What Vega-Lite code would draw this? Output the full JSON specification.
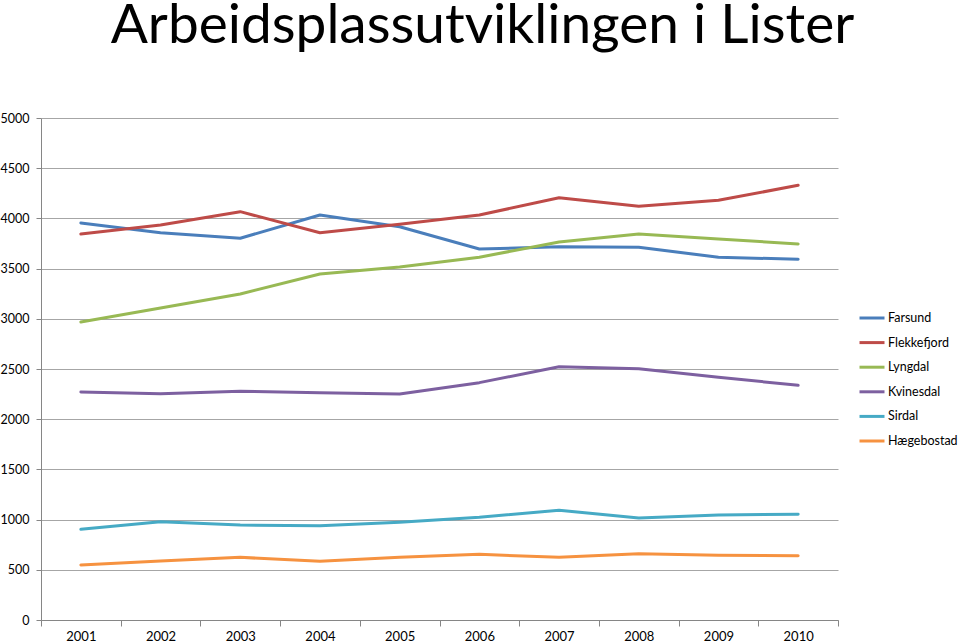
{
  "$schema": "https://vega.github.io/schema/vega-lite/v6.json",
  "width": 797,
  "height": 502,
  "autosize": {"type": "none"},
  "padding": {"left": 41, "top": 118, "right": 121, "bottom": 23},
  "background": "white",
  "title": {
    "text": "Arbeidsplassutviklingen i Lister",
    "font": "Lato",
    "fontSize": 55,
    "fontWeight": "normal",
    "color": "#000000",
    "anchor": "middle",
    "dx": 43,
    "baseline": "alphabetic",
    "offset": 14
  },
  "config": {
    "view": {"stroke": null},
    "font": "Lato"
  },
  "data": {
    "values": [
      {"year": "2001", "kommune": "Farsund", "value": 3955},
      {"year": "2002", "kommune": "Farsund", "value": 3857},
      {"year": "2003", "kommune": "Farsund", "value": 3802},
      {"year": "2004", "kommune": "Farsund", "value": 4034},
      {"year": "2005", "kommune": "Farsund", "value": 3917},
      {"year": "2006", "kommune": "Farsund", "value": 3695},
      {"year": "2007", "kommune": "Farsund", "value": 3718},
      {"year": "2008", "kommune": "Farsund", "value": 3712},
      {"year": "2009", "kommune": "Farsund", "value": 3613},
      {"year": "2010", "kommune": "Farsund", "value": 3593},
      {"year": "2001", "kommune": "Flekkefjord", "value": 3845},
      {"year": "2002", "kommune": "Flekkefjord", "value": 3934},
      {"year": "2003", "kommune": "Flekkefjord", "value": 4067},
      {"year": "2004", "kommune": "Flekkefjord", "value": 3857},
      {"year": "2005", "kommune": "Flekkefjord", "value": 3941},
      {"year": "2006", "kommune": "Flekkefjord", "value": 4034},
      {"year": "2007", "kommune": "Flekkefjord", "value": 4206},
      {"year": "2008", "kommune": "Flekkefjord", "value": 4120},
      {"year": "2009", "kommune": "Flekkefjord", "value": 4180},
      {"year": "2010", "kommune": "Flekkefjord", "value": 4330},
      {"year": "2001", "kommune": "Lyngdal", "value": 2968},
      {"year": "2002", "kommune": "Lyngdal", "value": 3107},
      {"year": "2003", "kommune": "Lyngdal", "value": 3247},
      {"year": "2004", "kommune": "Lyngdal", "value": 3446},
      {"year": "2005", "kommune": "Lyngdal", "value": 3516},
      {"year": "2006", "kommune": "Lyngdal", "value": 3613},
      {"year": "2007", "kommune": "Lyngdal", "value": 3765},
      {"year": "2008", "kommune": "Lyngdal", "value": 3845},
      {"year": "2009", "kommune": "Lyngdal", "value": 3795},
      {"year": "2010", "kommune": "Lyngdal", "value": 3745},
      {"year": "2001", "kommune": "Kvinesdal", "value": 2271},
      {"year": "2002", "kommune": "Kvinesdal", "value": 2254},
      {"year": "2003", "kommune": "Kvinesdal", "value": 2278},
      {"year": "2004", "kommune": "Kvinesdal", "value": 2264},
      {"year": "2005", "kommune": "Kvinesdal", "value": 2251},
      {"year": "2006", "kommune": "Kvinesdal", "value": 2364},
      {"year": "2007", "kommune": "Kvinesdal", "value": 2523},
      {"year": "2008", "kommune": "Kvinesdal", "value": 2503},
      {"year": "2009", "kommune": "Kvinesdal", "value": 2417},
      {"year": "2010", "kommune": "Kvinesdal", "value": 2338},
      {"year": "2001", "kommune": "Sirdal", "value": 903},
      {"year": "2002", "kommune": "Sirdal", "value": 979},
      {"year": "2003", "kommune": "Sirdal", "value": 946},
      {"year": "2004", "kommune": "Sirdal", "value": 939},
      {"year": "2005", "kommune": "Sirdal", "value": 973},
      {"year": "2006", "kommune": "Sirdal", "value": 1023},
      {"year": "2007", "kommune": "Sirdal", "value": 1093},
      {"year": "2008", "kommune": "Sirdal", "value": 1016},
      {"year": "2009", "kommune": "Sirdal", "value": 1046},
      {"year": "2010", "kommune": "Sirdal", "value": 1053},
      {"year": "2001", "kommune": "Hægebostad", "value": 548},
      {"year": "2002", "kommune": "Hægebostad", "value": 588},
      {"year": "2003", "kommune": "Hægebostad", "value": 624},
      {"year": "2004", "kommune": "Hægebostad", "value": 585},
      {"year": "2005", "kommune": "Hægebostad", "value": 624},
      {"year": "2006", "kommune": "Hægebostad", "value": 654},
      {"year": "2007", "kommune": "Hægebostad", "value": 624},
      {"year": "2008", "kommune": "Hægebostad", "value": 660},
      {"year": "2009", "kommune": "Hægebostad", "value": 644},
      {"year": "2010", "kommune": "Hægebostad", "value": 640}
    ]
  },
  "mark": {"type": "line", "strokeWidth": 3, "strokeJoin": "round", "strokeCap": "round"},
  "encoding": {
    "x": {
      "field": "year",
      "type": "ordinal",
      "scale": {"type": "band", "paddingInner": 0, "paddingOuter": 0},
      "axis": {
        "title": null,
        "labelAngle": 0,
        "labelFontSize": 13,
        "labelColor": "#000000",
        "labelPadding": 4,
        "tickBand": "extent",
        "tickSize": 6,
        "tickColor": "#868686",
        "domainColor": "#868686",
        "grid": false
      }
    },
    "y": {
      "field": "value",
      "type": "quantitative",
      "scale": {"domain": [0, 5000], "nice": false},
      "axis": {
        "title": null,
        "format": "d",
        "values": [0, 500, 1000, 1500, 2000, 2500, 3000, 3500, 4000, 4500, 5000],
        "labelFontSize": 12.5,
        "labelColor": "#000000",
        "labelPadding": 7,
        "tickSize": 5,
        "tickColor": "#868686",
        "domainColor": "#868686",
        "gridColor": "#a6a6a6",
        "grid": true
      }
    },
    "color": {
      "field": "kommune",
      "type": "nominal",
      "sort": ["Farsund", "Flekkefjord", "Lyngdal", "Kvinesdal", "Sirdal", "Hægebostad"],
      "scale": {
        "domain": ["Farsund", "Flekkefjord", "Lyngdal", "Kvinesdal", "Sirdal", "Hægebostad"],
        "range": ["#4a7ebb", "#be4b48", "#98b954", "#7d60a0", "#46aac5", "#f69240"]
      },
      "legend": {
        "title": null,
        "orient": "none",
        "legendX": 817,
        "legendY": 186,
        "symbolType": "stroke",
        "symbolSize": 625,
        "symbolStrokeWidth": 3,
        "labelFontSize": 12.5,
        "labelColor": "#000000",
        "labelOffset": 2,
        "rowPadding": 3.6
      }
    }
  }
}
